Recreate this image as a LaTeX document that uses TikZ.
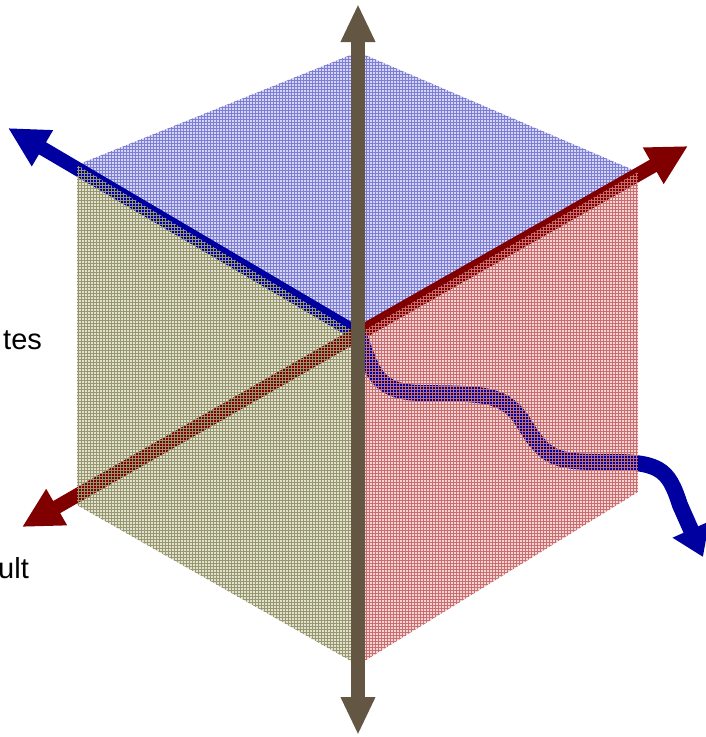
\documentclass[tikz,border=0pt]{standalone}
\usepackage{fontspec}
\setmainfont{Liberation Sans}
\usetikzlibrary{arrows.meta, patterns}

\definecolor{axbrown}{RGB}{99,86,66}
\definecolor{axred}{RGB}{128,0,0}
\definecolor{axblue}{RGB}{0,0,160}
\definecolor{topfill}{RGB}{212,212,244}
\definecolor{topgrid}{RGB}{125,125,212}
\definecolor{leftfill}{RGB}{226,226,206}
\definecolor{leftgrid}{RGB}{150,150,112}
\definecolor{rightfill}{RGB}{244,212,212}
\definecolor{rightgrid}{RGB}{200,110,110}

\begin{document}
\begin{tikzpicture}[x=1pt, y=-1pt,
  axline/.style={line width=14pt},
  bigtip/.style={-{Triangle[length=40pt,width=39pt]}},
  sidegrid/.style={pattern=grid, fill opacity=0.55},
  lbl/.style={font=\fontsize{29}{31}\selectfont, anchor=base west, inner sep=0pt}
]
\useasboundingbox (0,0) rectangle (705,737);

% cube corners
\coordinate (o) at (358,334);
\coordinate (top) at (358,52);
\coordinate (ul) at (77,165);
\coordinate (ll) at (77,505);
\coordinate (bot) at (358,665);
\coordinate (lr) at (638,492);
\coordinate (ur) at (638,172);

% axis ends
\coordinate (up) at (358,4);
\coordinate (down) at (358,735);
\coordinate (redp) at (688,146);
\coordinate (redm) at (22,527);
\coordinate (blueend) at (8,128);
\coordinate (waveend) at (703,557);

% faces
\fill[topfill] (o) -- (ul) -- (top) -- (ur) -- cycle;
\fill[leftfill] (o) -- (ul) -- (ll) -- (bot) -- cycle;
\fill[rightfill] (o) -- (ur) -- (lr) -- (bot) -- cycle;
\fill[pattern=grid, pattern color=topgrid] (o) -- (ul) -- (top) -- (ur) -- cycle;

% axes under the side faces
\draw[axline, axblue, bigtip] (o) -- (blueend);
\draw[axline, axred, bigtip] (o) -- (redp);
\draw[axline, axred, bigtip] (o) -- (redm);
\draw[axline, line width=16pt, axblue, -{Triangle[length=30pt,width=38pt]}]
  (o) .. controls (372,366) and (372,392) .. (420,393)
      .. controls (485,394) and (505,392) .. (525,425)
      .. controls (545,458) and (556,462) .. (600,462)
      .. controls (660,461) and (668,468) .. (680,505)
      -- (waveend);

\fill[sidegrid, pattern color=leftgrid] (o) -- (ul) -- (ll) -- (bot) -- cycle;
\fill[sidegrid, pattern color=rightgrid] (o) -- (ur) -- (lr) -- (bot) -- cycle;

% vertical axis
\draw[axline, axbrown, {Triangle[length=38pt,width=32pt]}-{Triangle[length=38pt,width=32pt]}] (down) -- (up);

% cut-off labels
\node[lbl] (states) at (3,349) {tes};
\node[lbl] (result) at (-2,578) {ult};
\end{tikzpicture}
\end{document}
